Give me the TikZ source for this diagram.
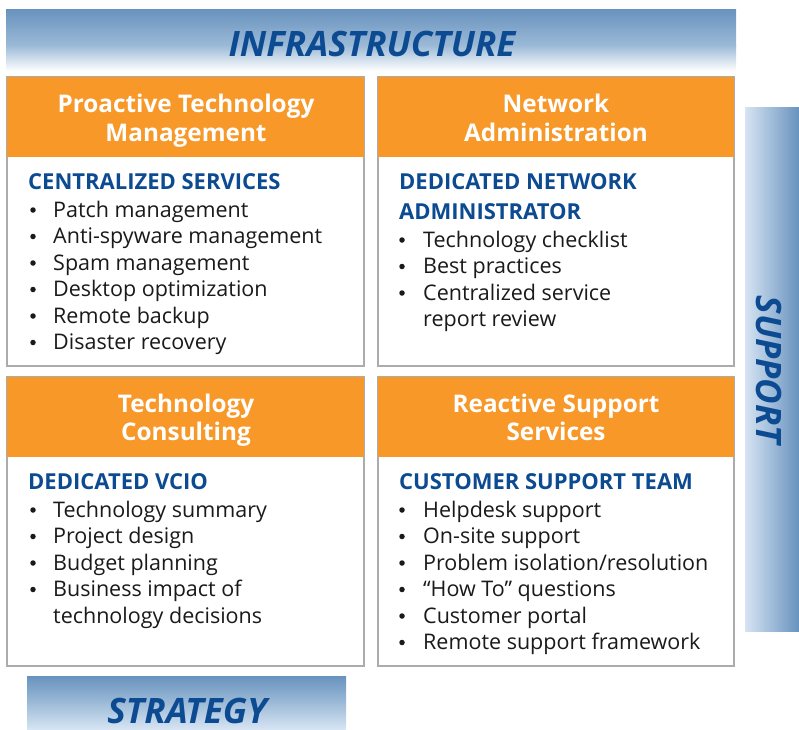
\documentclass[tikz,border=0pt]{standalone}
\usepackage{fontspec}
\setmainfont{Open Sans}
\definecolor{bdark}{RGB}{104,146,190}
\definecolor{bmid}{RGB}{156,186,215}
\definecolor{blight}{RGB}{214,228,243}
\definecolor{tblue}{RGB}{12,74,145}
\definecolor{orng}{RGB}{247,152,41}
\definecolor{bgray}{RGB}{172,172,172}
\definecolor{ink}{RGB}{26,26,26}
\begin{document}
\begin{tikzpicture}[x=1pt,y=-1pt,
  bodybox/.style={draw=bgray,line width=1.4pt,fill=white},
  headbox/.style={fill=orng},
  title/.style={anchor=base,inner sep=0pt,text=white,font=\fontsize{24.3}{28}\selectfont\bfseries},
  sect/.style={anchor=base west,inner sep=0pt,text=tblue,font=\fontsize{22}{26}\selectfont\bfseries},
  item/.style={anchor=base west,inner sep=0pt,text=ink,font=\fontsize{21.5}{26}\selectfont},
  bul/.style={circle,fill=ink,inner sep=0pt,minimum size=5.5pt},
  bantext/.style={inner sep=0pt,text depth=0pt,text=tblue,font=\fontsize{35}{40}\selectfont\bfseries\itshape}]
\useasboundingbox (0,0) rectangle (799,729);

% banners
\fill[top color=bdark,bottom color=bmid] (6,9) rectangle (736,46);
\fill[top color=bmid,bottom color=white] (6,45.5) rectangle (736,71);
\node[bantext,anchor=base] (infra) at (372,56) {INFRASTRUCTURE};

\fill[left color=blight,right color=bdark] (745,107) rectangle (799,631);
\node[bantext,rotate=-90] (supp) at (769,370) {SUPPORT};

\fill[top color=bdark,bottom color=blight,middle color=bmid] (27,676) rectangle (346,729);
\node[bantext,anchor=base] (strat) at (187,723) {STRATEGY};

% boxes
\draw[bodybox] (7,77) rectangle (364,366);
\fill[headbox] (7,77) rectangle (364,157);
\draw[bodybox] (378,77) rectangle (734,366);
\fill[headbox] (378,77) rectangle (734,157);
\draw[bodybox] (7,377) rectangle (364,666);
\fill[headbox] (7,377) rectangle (364,457);
\draw[bodybox] (378,377) rectangle (734,666);
\fill[headbox] (378,377) rectangle (734,457);

% titles
\node[title] (tA1) at (186,112) {Proactive Technology};
\node[title] (tA2) at (186,141) {Management};
\node[title] (tB1) at (556,112) {Network};
\node[title] (tB2) at (556,141) {Administration};
\node[title] (tC1) at (186,412) {Technology};
\node[title] (tC2) at (186,440) {Consulting};
\node[title] (tD1) at (556,412) {Reactive Support};
\node[title] (tD2) at (556,440) {Services};

% box A
\node[sect] (sA) at (28,189) {CENTRALIZED SERVICES};
\foreach \t [count=\i] in {Patch management,Anti-spyware management,Spam management,Desktop optimization,Remote backup,Disaster recovery}{
  \node[bul] (aB\i) at (33,{183.5+26.5*\i}) {};
  \node[item] (aT\i) at (53,{190.5+26.5*\i}) {\t};
}

% box B
\node[sect] (sB1) at (399,189) {DEDICATED NETWORK};
\node[sect] (sB2) at (399,219) {ADMINISTRATOR};
\foreach \t [count=\i] in {Technology checklist,Best practices,Centralized service}{
  \node[bul] (bB\i) at (402,{213.5+26.5*\i}) {};
  \node[item] (bT\i) at (423,{220.5+26.5*\i}) {\t};
}
\node[item] (bT4) at (423,326) {report review};

% box C
\node[sect] (sC) at (28,489) {DEDICATED VCIO};
\foreach \t [count=\i] in {Technology summary,Project design,Budget planning,Business impact of}{
  \node[bul] (cB\i) at (33,{483.5+26.5*\i}) {};
  \node[item] (cT\i) at (53,{490.5+26.5*\i}) {\t};
}
\node[item] (cT5) at (53,623) {technology decisions};

% box D
\node[sect] (sD) at (399,489) {CUSTOMER SUPPORT TEAM};
\foreach \t [count=\i] in {Helpdesk support,On-site support,Problem isolation/resolution,“How To” questions,Customer portal,Remote support framework}{
  \node[bul] (dB\i) at (402,{483.5+26.5*\i}) {};
  \node[item] (dT\i) at (423,{490.5+26.5*\i}) {\t};
}
\end{tikzpicture}
\end{document}
